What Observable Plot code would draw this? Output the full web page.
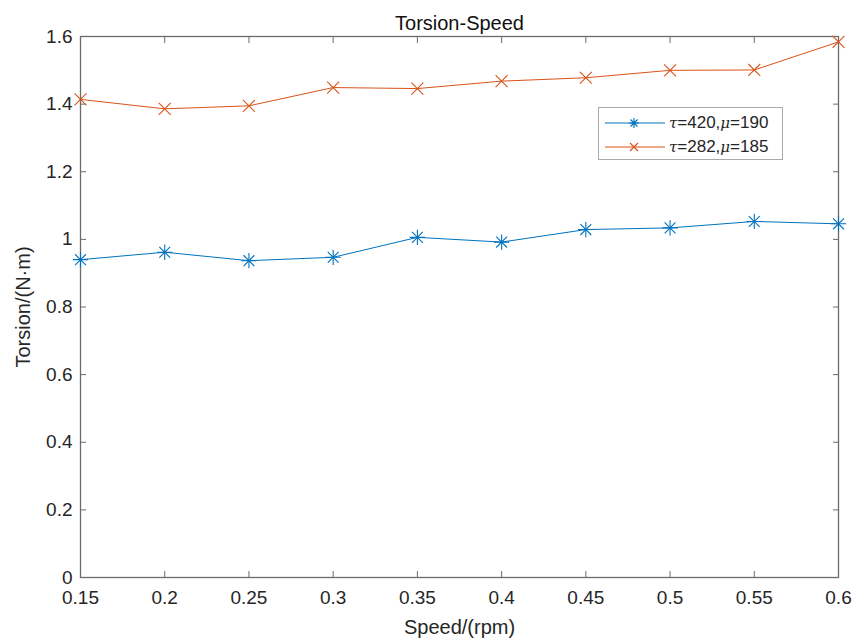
<!DOCTYPE html>
<html><head><meta charset="utf-8">
<script src="https://cdn.jsdelivr.net/npm/d3@7"></script>
<script src="https://cdn.jsdelivr.net/npm/@observablehq/plot@0.6"></script>
<style>
body{margin:0;background:#fff;font-family:"Liberation Sans",Arial,sans-serif;}
#wrap{position:relative;width:854px;height:641px;}
#legend{position:absolute;left:598px;top:107px;width:185px;height:53px;border:1px solid #aaa;background:#fff;box-sizing:border-box;font-size:17px;color:#262626;}
.row{position:absolute;left:0;height:22px;display:flex;align-items:center;white-space:nowrap;}
.row svg{margin-left:6px;margin-right:4px;}
i{font-family:"DejaVu Serif",serif;font-size:15px;}
</style></head>
<body><div id="wrap"><div id="legend"></div></div>
<script>
const speeds = [0.15,0.2,0.25,0.3,0.35,0.4,0.45,0.5,0.55,0.6];
const torsionA = [0.940,0.962,0.937,0.947,1.006,0.992,1.029,1.034,1.053,1.046]; // τ=420, μ=190
const torsionB = [1.414,1.386,1.395,1.449,1.446,1.468,1.478,1.500,1.501,1.584]; // τ=282, μ=185
const xTicks = [0.15,0.2,0.25,0.3,0.35,0.4,0.45,0.5,0.55,0.6];
const yTicks = [0,0.2,0.4,0.6,0.8,1,1.2,1.4,1.6];
const seriesNames = ["τ=420,μ=190","τ=282,μ=185"];
const colors = ["#0072BD","#D95319"];

const dataA = speeds.map((s,i)=>({s, t: torsionA[i]}));
const dataB = speeds.map((s,i)=>({s, t: torsionB[i]}));
const axisColor = "#6b6b6b";
const fmt = d => String(d);

const chart = Plot.plot({
  width: 854, height: 641,
  marginLeft: 80, marginRight: 16, marginTop: 36, marginBottom: 64,
  style: {fontFamily: '"Liberation Sans", Arial, sans-serif', fontSize: "19px", color: "#262626", background: "#fff"},
  x: {domain: [0.15, 0.6]},
  y: {domain: [0, 1.6]},
  marks: [
    Plot.frame({stroke: axisColor, strokeWidth: 1.3}),
    // inward ticks on all four sides
    Plot.axisX(xTicks, {anchor: "bottom", tickSize: -6, text: null, stroke: axisColor, label: null}),
    Plot.axisX(xTicks, {anchor: "top", tickSize: -6, text: null, stroke: axisColor, label: null}),
    Plot.axisY(yTicks, {anchor: "left", tickSize: -6, text: null, stroke: axisColor, label: null}),
    Plot.axisY(yTicks, {anchor: "right", tickSize: -6, text: null, stroke: axisColor, label: null}),
    // labels
    Plot.axisX(xTicks, {anchor: "bottom", tickSize: 0, tickPadding: 13, tickFormat: fmt, fill: "#262626",
      label: "Speed/(rpm)", labelAnchor: "center", labelArrow: "none", labelOffset: 56, fontSize: 19}),
    Plot.axisY(yTicks, {anchor: "left", tickSize: 0, tickPadding: 8, tickFormat: fmt, fill: "#262626",
      label: "Torsion/(N·m)", labelAnchor: "center", labelArrow: "none", labelOffset: 65, fontSize: 19}),
    Plot.text(["Torsion-Speed"], {frameAnchor: "top", lineAnchor: "middle", dy: -13, fontSize: 20, fill: "#111"}),
    // series
    Plot.line(dataA, {x: "s", y: "t", stroke: colors[0], strokeWidth: 1}),
    Plot.dot(dataA, {x: "s", y: "t", symbol: "plus", r: 5, stroke: colors[0], strokeWidth: 1.1}),
    Plot.dot(dataA, {x: "s", y: "t", symbol: "times", r: 5, stroke: colors[0], strokeWidth: 1.1}),
    Plot.line(dataB, {x: "s", y: "t", stroke: colors[1], strokeWidth: 1}),
    Plot.dot(dataB, {x: "s", y: "t", symbol: "times", r: 5.5, stroke: colors[1], strokeWidth: 1.1})
  ]
});
chart.style.position = "absolute";
chart.style.left = "0"; chart.style.top = "0";
document.getElementById("wrap").prepend(chart);
// make axis label font size match
chart.querySelectorAll("text").forEach(t => {
  if (t.textContent === "Speed/(rpm)" || t.textContent === "Torsion/(N·m)") t.setAttribute("font-size", "20");
});

// legend
const leg = document.getElementById("legend");
const mk = (i) => {
  const c = colors[i];
  const star = i === 0
    ? `<path d="M29,6v10M24,11h10M25.5,7.5l7,7M32.5,7.5l-7,7" stroke="${c}" stroke-width="1.1"/>`
    : `<path d="M25,7l8,8M33,7l-8,8" stroke="${c}" stroke-width="1.1"/>`;
  return `<svg width="60" height="22"><line x1="0" x2="60" y1="11" y2="11" stroke="${c}" stroke-width="1"/>${star}</svg>`;
};
seriesNames.forEach((n,i)=>{
  const [a,b] = n.split(",");
  const r = document.createElement("div");
  r.className = "row";
  r.style.top = (i === 0 ? 4 : 28) + "px";
  r.innerHTML = mk(i) + `<span><i>τ</i>${a.slice(1)},<i>μ</i>${b.slice(1)}</span>`;
  leg.appendChild(r);
});
</script></body></html>
